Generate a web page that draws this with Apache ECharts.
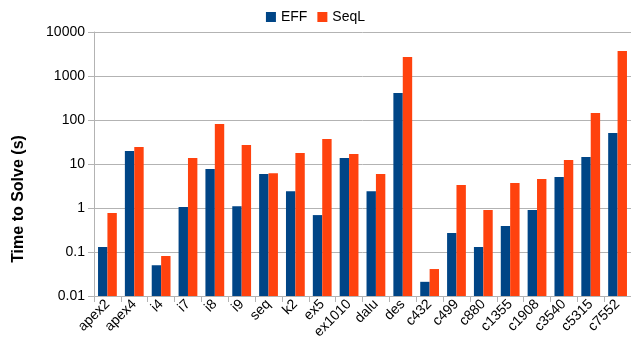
<!DOCTYPE html>
<html><head><meta charset="utf-8">
<script src="https://cdn.jsdelivr.net/npm/echarts@6/dist/echarts.min.js"></script>
<style>html,body{margin:0;padding:0;background:#fff}#c{width:631px;height:351px}</style>
</head><body><div id="c"></div>
<script>
const categories = ['apex2','apex4','i4','i7','i8','i9','seq','k2','ex5','ex1010','dalu','des','c432','c499','c880','c1355','c1908','c3540','c5315','c7552'];
const effValues  = [0.13, 19.7, 0.05, 1.05, 7.7, 1.1, 5.9, 2.4, 0.69, 13.7, 2.4, 411, 0.021, 0.27, 0.13, 0.39, 0.9, 5.07, 14.4, 50.7];
const seqlValues = [0.77, 24.3, 0.081, 13.7, 81, 27, 6.2, 17.8, 37, 16.9, 5.9, 2700, 0.041, 3.33, 0.9, 3.7, 4.56, 12.3, 144, 3700];
const yTicks = [0.01, 0.1, 1, 10, 100, 1000, 10000];
const seriesNames = ['EFF', 'SeqL'];
const seriesColors = ['#004586', '#ff420e'];

const yMin = yTicks[0], yMax = yTicks[yTicks.length - 1];
const chart = echarts.init(document.getElementById('c'), null, {renderer: 'canvas'});
const font = 'Liberation Sans';

function makeRender(idx) {
  return function (params, api) {
    const cat = api.value(0), val = api.value(1);
    const top = api.coord([cat, val]);
    const base = api.coord([cat, yMin]);
    const band = api.size([1, 0])[0];
    const barW = band * 0.35;
    const x0 = top[0] - barW + idx * barW;
    return {
      type: 'rect',
      shape: {x: x0, y: top[1], width: barW, height: base[1] - top[1]},
      style: {fill: seriesColors[idx]}
    };
  };
}

chart.setOption({
  animation: false,
  textStyle: {fontFamily: font},
  legend: {
    data: seriesNames, top: 5, left: 'center', icon: 'rect',
    itemWidth: 10, itemHeight: 10, itemGap: 10,
    textStyle: {fontFamily: font, fontSize: 14, color: '#000'}
  },
  grid: {left: 94, right: -3, top: 32, bottom: 55, containLabel: false},
  xAxis: {
    type: 'category', data: categories,
    axisLine: {lineStyle: {color: '#b3b3b3'}},
    axisTick: {show: true, length: 6, lineStyle: {color: '#b3b3b3'}},
    axisLabel: {rotate: 45, fontSize: 14, color: '#000', fontFamily: font, margin: 6, interval: 0}
  },
  yAxis: {
    type: 'log', logBase: 10, min: yMin, max: yMax,
    axisLine: {show: true, lineStyle: {color: '#b3b3b3'}},
    axisTick: {show: true, length: 6, lineStyle: {color: '#b3b3b3'}},
    splitLine: {lineStyle: {color: '#b3b3b3'}},
    axisLabel: {fontSize: 14, color: '#000', fontFamily: font, margin: 9,
      formatter: v => { const t = yTicks.find(x => Math.abs(x - v) / x < 1e-6); return t === undefined ? '' : String(t); }}
  },
  graphic: [{
    type: 'text', x: 19, y: 199, rotation: Math.PI / 2,
    style: {text: 'Time to Solve (s)', font: 'bold 16px "Liberation Sans"', fill: '#000', align: 'center', verticalAlign: 'middle'}
  }],
  series: [
    {name: seriesNames[0], type: 'custom', renderItem: makeRender(0), itemStyle: {color: seriesColors[0]},
     encode: {x: 0, y: 1}, data: effValues.map((v, i) => [i, v])},
    {name: seriesNames[1], type: 'custom', renderItem: makeRender(1), itemStyle: {color: seriesColors[1]},
     encode: {x: 0, y: 1}, data: seqlValues.map((v, i) => [i, v])}
  ]
});
</script></body></html>
